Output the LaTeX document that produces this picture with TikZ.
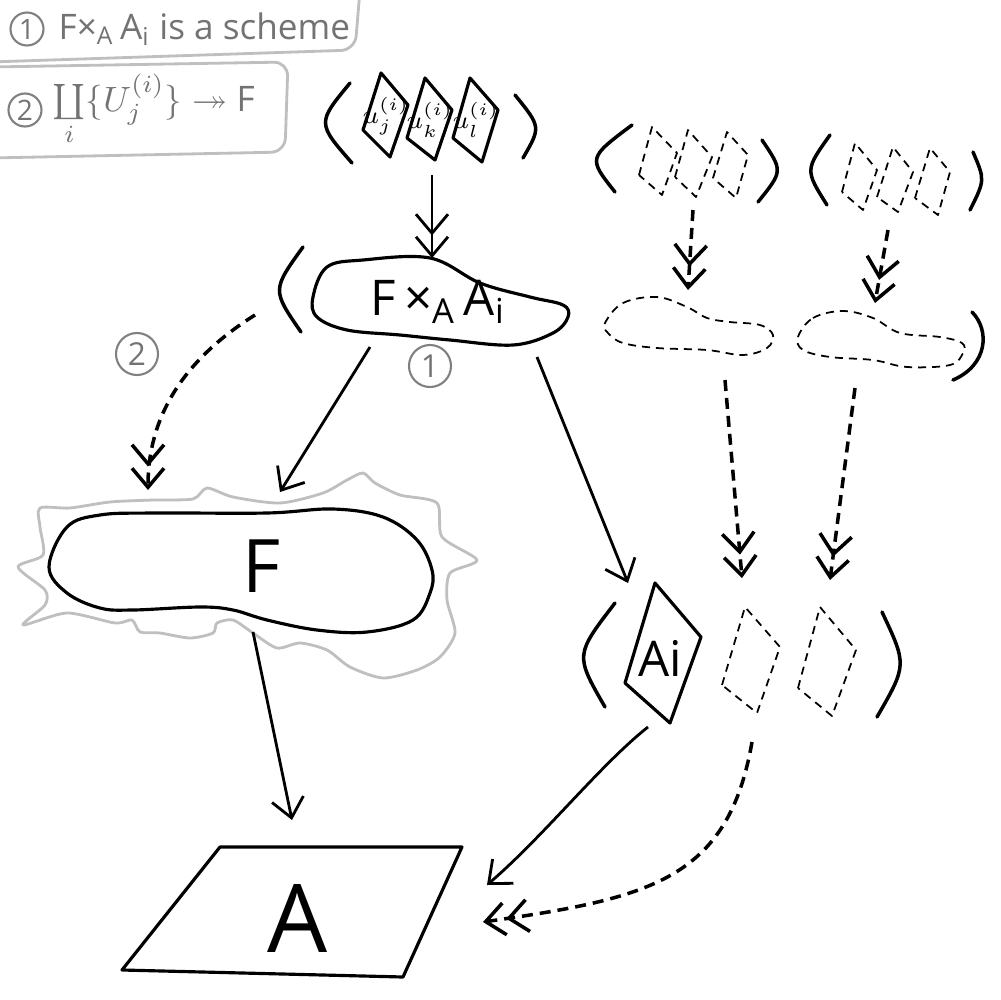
\documentclass[tikz,border=0pt]{standalone}
\usepackage{amssymb}
\usepackage{fontspec}
\setmainfont{Open Sans}
\usetikzlibrary{arrows.meta}

\tikzset{
  >={Straight Barb[length=1.9mm,width=3.2mm]},
  sheet/.style={line width=0.9pt, line join=round},
  ghost/.style={line width=0.5pt, line join=round, dash pattern=on 0.8mm off 0.6mm},
  map/.style={line width=0.8pt, ->},
  cover/.style={line width=0.8pt, ->>},
  ghostmap/.style={line width=1pt, dash pattern=on 1.1mm off 0.7mm, ->>},
  paren/.style={line width=1pt, line cap=round},
  halo/.style={line width=0.8pt, draw=black!25, line join=round},
  note/.style={circle, draw=black!50, line width=0.6pt, text=black!55, minimum size=4.2mm, inner sep=0pt, font=\fontsize{9}{9}\selectfont},
  claim/.style={text=black!55, font=\fontsize{10}{12}\selectfont, inner sep=0pt, anchor=west},
  tag/.style={note, minimum size=3.3mm, font=\fontsize{8}{8}\selectfont},
}

\begin{document}
\begin{tikzpicture}[x=0.1mm, y=-0.1mm]
        \useasboundingbox (0,0) rectangle (1000,1000);

        % the two claims, top left
        \draw[halo, rounded corners=4pt] (-10,62) -- (355,50) -- (360,-10);
        \draw[halo, rounded corners=4pt] (-10,67) -- (288,62) -- (285,152) -- (-10,158);
        \node[tag] (tag1) at (27,29) {1};
        \node[claim] (claim1) at (58,29) {F×\textsubscript{A}\,A\textsubscript{i} is a scheme};
        \node[tag] (tag2) at (25,110) {2};
        \node[claim] (claim2) at (52,110) {$\coprod\limits_i\{U_j^{(i)}\}\twoheadrightarrow$ F};

        % open cover of F x_A A_i
        \draw[paren] (350,83) .. controls (317,123) .. (352,163);
        \draw[paren] (515,95) .. controls (541,127) .. (523,158);
        \draw[sheet] (363,130) -- (381,73) -- (408,105) -- (390,157) -- cycle;
        \draw[sheet] (407,138) -- (425,78) -- (452,110) -- (435,160) -- cycle;
        \draw[sheet] (453,138) -- (470,78) -- (498,110) -- (482,162) -- cycle;
        \node[font=\scriptsize, inner sep=0pt] (uj) at (386,116) {$u_j^{(i)}$};
        \node[font=\scriptsize, inner sep=0pt] (uk) at (430,120) {$u_k^{(i)}$};
        \node[font=\scriptsize, inner sep=0pt] (ul) at (476,120) {$u_l^{(i)}$};

        % the fibre product
        \draw[paren] (303,247) .. controls (272,290) .. (301,332);
        \draw[sheet] plot[smooth cycle, tension=0.6] coordinates {(313,297) (327,267) (363,260) (430,258) (480,283) (530,297) (563,305) (568,317) (553,333) (513,345) (450,340) (400,335) (347,330) (317,317)};
        \node[font=\fontsize{14}{14}\selectfont] (fxa) at (438,302) {F\,×\textsubscript{A}\,A\textsubscript{i}};
        \node[note] (one) at (430,366) {1};

        % the other covers, only sketched
        \draw[paren] (632,125) .. controls (588,158) .. (615,192);
        \draw[paren] (762,140) .. controls (783,171) .. (758,202);
        \draw[ghost] (639,175) -- (652,127) -- (677,153) -- (662,195) -- cycle;
        \draw[ghost] (675,177) -- (688,130) -- (712,157) -- (696,197) -- cycle;
        \draw[ghost] (713,178) -- (727,132) -- (748,155) -- (736,198) -- cycle;
        \draw[paren] (830,135) .. controls (805,170) .. (827,205);
        \draw[paren] (973,152) .. controls (985,180) .. (970,210);
        \draw[ghost] (842,192) -- (855,143) -- (877,170) -- (863,210) -- cycle;
        \draw[ghost] (877,197) -- (893,147) -- (913,172) -- (898,212) -- cycle;
        \draw[ghost] (915,198) -- (930,148) -- (950,172) -- (938,215) -- cycle;
        \draw[ghost] plot[smooth cycle, tension=0.6] coordinates {(605,323) (623,303) (657,297) (687,307) (707,318) (730,322) (760,325) (773,335) (767,348) (743,355) (707,350) (657,348) (623,343) (608,333)};
        \draw[ghost] plot[smooth cycle, tension=0.6] coordinates {(798,337) (813,318) (843,311) (873,318) (900,333) (940,337) (962,343) (963,353) (950,365) (907,367) (873,360) (830,357) (803,350)};
        \draw[paren] (972,312) .. controls (990,330) and (988,365) .. (953,380);

        % F with its halo
        \draw[halo] plot[smooth cycle, tension=0.45] coordinates {(40,508) (70,508) (110,502) (153,500) (193,499) (207,488) (233,497) (280,503) (323,493) (347,480) (363,473) (375,483) (400,495) (437,503) (442,537) (477,560) (450,573) (447,600) (455,633) (440,657) (417,670) (383,678) (350,667) (327,650) (300,643) (277,648) (253,633) (233,620) (217,623) (213,633) (190,638) (160,633) (140,632) (132,620) (115,623) (67,613) (23,625) (45,605) (45,590) (18,567) (43,555) (40,527)};
        \draw[sheet] plot[smooth cycle, tension=0.6] coordinates {(49,567) (67,527) (100,515) (153,513) (267,513) (333,509) (383,517) (417,540) (432,570) (430,593) (413,620) (367,632) (317,630) (267,620) (233,610) (200,607) (133,610) (100,608) (67,593)};
        \node[font=\fontsize{21}{21}\selectfont] (F) at (262,566) {F};
        \node[note] (two) at (137,354) {2};

        % A_i and its neighbours
        \draw[paren] (615,603) .. controls (575,655) .. (605,707);
        \draw[paren] (882,612) .. controls (907,665) .. (877,717);
        \draw[sheet] (625,683) -- (655,583) -- (701,637) -- (670,723) -- cycle;
        \node[font=\fontsize{14}{14}\selectfont] (ai) at (660,658) {Ai};
        \draw[ghost] (722,685) -- (745,607) -- (780,647) -- (757,713) -- cycle;
        \draw[ghost] (798,688) -- (820,607) -- (856,650) -- (832,716) -- cycle;

        % the base
        \draw[sheet] (220,847) -- (462,847) -- (403,977) -- (122,970) -- cycle;
        \node[font=\fontsize{27}{27}\selectfont] (A) at (298,918) {A};

        % end points of the maps
        \coordinate (uOut) at (432,175);
        \coordinate (fxaIn) at (432,258);
        \coordinate (fxaL) at (370,347);
        \coordinate (fxaR) at (537,357);
        \coordinate (fIn) at (280,492);
        \coordinate (fIn2) at (148,490);
        \coordinate (twoOut) at (255,315);
        \coordinate (aiIn) at (628,583);
        \coordinate (fOut) at (253,632);
        \coordinate (aTop) at (292,820);
        \coordinate (aiOut) at (648,727);
        \coordinate (aSide) at (487,885);
        \coordinate (gOut) at (752,742);
        \coordinate (aSide2) at (483,922);
        \coordinate (g1Out) at (693,210);
        \coordinate (b1In) at (688,290);
        \coordinate (g2Out) at (888,230);
        \coordinate (b2In) at (875,303);
        \coordinate (b1Out) at (725,380);
        \coordinate (p1In) at (742,578);
        \coordinate (b2Out) at (855,388);
        \coordinate (p2In) at (830,580);

        \draw[cover] (uOut) -- (fxaIn);
        \draw[map] (fxaL) -- (fIn);
        \draw[map] (fxaR) -- (aiIn);
        \draw[map] (fOut) -- (aTop);
        \draw[map] (aiOut) .. controls (600,765) and (545,835) .. (aSide);
        \draw[ghostmap] (twoOut) .. controls (180,362) and (148,420) .. (fIn2);
        \draw[ghostmap] (gOut) .. controls (728,880) and (650,898) .. (aSide2);
        \draw[ghostmap] (g1Out) -- (b1In);
        \draw[ghostmap] (g2Out) -- (b2In);
        \draw[ghostmap] (b1Out) -- (p1In);
        \draw[ghostmap] (b2Out) -- (p2In);
    \end{tikzpicture}
\end{document}
